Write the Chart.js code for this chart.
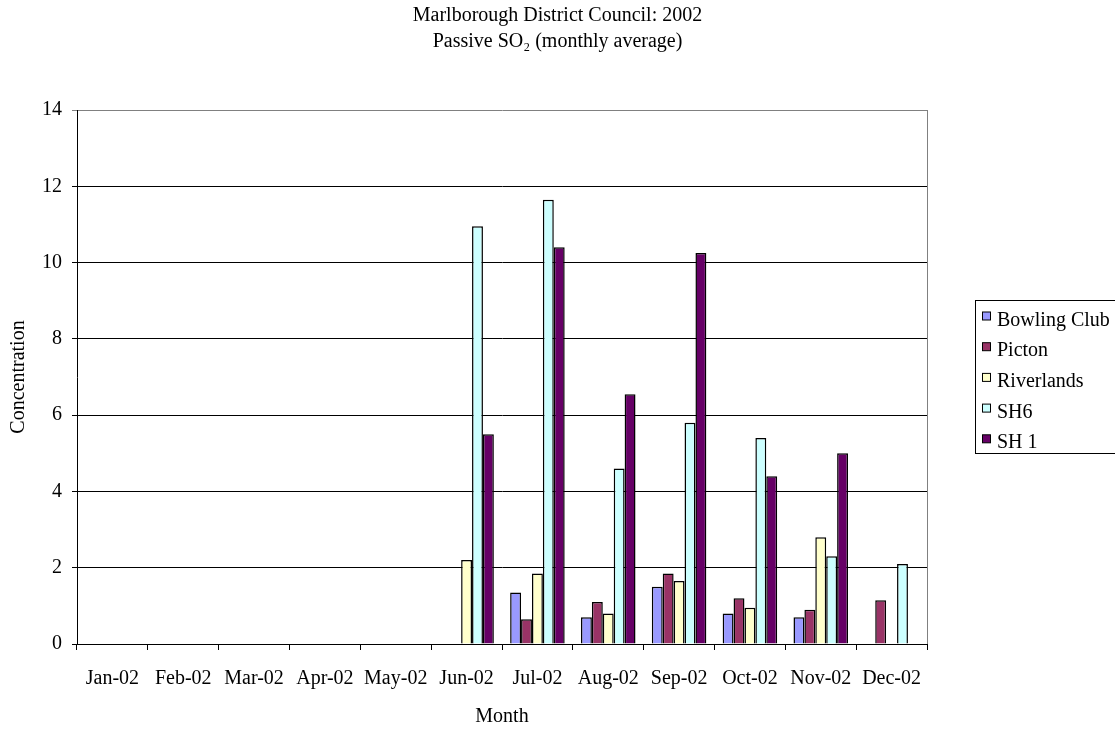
<!DOCTYPE html>
<html>
<head>
<meta charset="utf-8">
<script src="https://cdn.jsdelivr.net/npm/chart.js@4/dist/chart.umd.min.js"></script>
<style>
  html, body { margin: 0; padding: 0; background: #ffffff; }
  #wrap { width: 1115px; height: 729px; }
</style>
</head>
<body>
<div id="wrap"><canvas id="chart" width="1115" height="729"></canvas></div>
<script>
// Passive SO2 monthly averages, Marlborough District Council, 2002
const months = ['Jan-02', 'Feb-02', 'Mar-02', 'Apr-02', 'May-02', 'Jun-02',
                'Jul-02', 'Aug-02', 'Sep-02', 'Oct-02', 'Nov-02', 'Dec-02'];
const bowlingClub = [null, null, null, null, null, null, 1.35, 0.7, 1.5, 0.8, 0.7, null];
const picton      = [null, null, null, null, null, null, 0.65, 1.1, 1.85, 1.2, 0.9, 1.15];
const riverlands  = [null, null, null, null, null, 2.2, 1.85, 0.8, 1.65, 0.95, 2.8, null];
const sh6         = [null, null, null, null, null, 10.95, 11.65, 4.6, 5.8, 5.4, 2.3, 2.1];
const sh1         = [null, null, null, null, null, 5.5, 10.4, 6.55, 10.25, 4.4, 5.0, null];
const yTicks      = [0, 2, 4, 6, 8, 10, 12, 14];

const FONT = 'Liberation Serif, Times New Roman, serif';

function series(label, data, color) {
  return { label, data, backgroundColor: color, borderColor: '#000000', borderWidth: 1.5 };
}

// Boxed legend to the right of the plot, plus the grey plot-area outline
const framePlugin = {
  id: 'frame',
  afterDatasetsDraw(chart) {
    const { ctx, chartArea: a } = chart;
    ctx.save();
    ctx.strokeStyle = '#808080';
    ctx.lineWidth = 1;
    ctx.beginPath();
    ctx.moveTo(Math.round(a.right) + 0.5, a.top);
    ctx.lineTo(Math.round(a.right) + 0.5, a.bottom);
    ctx.stroke();
    ctx.restore();
  },
  afterDraw(chart) {
    const { ctx } = chart;
    const left = 975.5, top = 300.5, rowH = 30.7;
    ctx.save();
    ctx.strokeStyle = '#000000';
    ctx.lineWidth = 1;
    ctx.strokeRect(left, top, 160, 153);
    ctx.font = '20px ' + FONT;
    ctx.textAlign = 'left';
    ctx.textBaseline = 'alphabetic';
    chart.data.datasets.forEach((ds, i) => {
      const baseY = 325.5 + i * rowH;
      ctx.fillStyle = ds.backgroundColor;
      ctx.fillRect(982.5, baseY - 13.5, 8, 8);
      ctx.strokeRect(982.5, baseY - 13.5, 8, 8);
      ctx.fillStyle = '#000000';
      ctx.fillText(ds.label, 997, baseY);
    });
    ctx.restore();
  }
};

new Chart(document.getElementById('chart'), {
  type: 'bar',
  data: {
    labels: months,
    datasets: [
      series('Bowling Club', bowlingClub, '#9999FF'),
      series('Picton', picton, '#993366'),
      series('Riverlands', riverlands, '#FFFFCC'),
      series('SH6', sh6, '#CCFFFF'),
      series('SH 1', sh1, '#660066')
    ]
  },
  options: {
    responsive: false,
    animation: false,
    devicePixelRatio: 1,
    layout: { padding: 0 },
    datasets: { bar: { barPercentage: 1.0, categoryPercentage: 0.77 } },
    plugins: {
      legend: { display: false },
      tooltip: { enabled: false },
      title: {
        display: true,
        text: ['Marlborough District Council: 2002', 'Passive SO\u2082 (monthly average)'],
        color: '#000000',
        font: { family: FONT, size: 20, weight: 'normal', lineHeight: 1.3 },
        padding: { top: 3, bottom: 55 }
      }
    },
    scales: {
      x: {
        grid: { display: true, offset: true, drawOnChartArea: false, drawTicks: true,
                tickLength: 6, color: '#000000' },
        border: { display: true, color: '#000000', width: 1 },
        ticks: { color: '#000000', font: { family: FONT, size: 20 }, padding: 17,
                 maxRotation: 0, autoSkip: false },
        title: { display: true, text: 'Month', color: '#000000',
                 font: { family: FONT, size: 20 }, padding: { top: 0, bottom: 0 } },
        afterFit(scale) { scale.height = 85; }
      },
      y: {
        min: 0,
        max: 14,
        afterBuildTicks(scale) { scale.ticks = yTicks.map(v => ({ value: v })); },
        grid: {
          color: (c) => (c.tick && c.tick.value === 14 ? '#808080' : '#000000'),
          tickLength: 5, drawTicks: true
        },
        border: { display: true, color: '#000000', width: 1 },
        ticks: { color: '#000000', font: { family: FONT, size: 20 }, padding: 10 },
        title: { display: true, text: 'Concentration', color: '#000000',
                 font: { family: FONT, size: 20 }, padding: { top: 7, bottom: 0 } },
        afterFit(scale) { scale.width = 77; }
      },
      // empty right-hand axis that keeps room for the legend box
      yLegendSpace: {
        position: 'right',
        min: 0,
        max: 14,
        grid: { display: false },
        border: { display: false },
        ticks: { display: false },
        afterFit(scale) { scale.width = 188; }
      }
    }
  },
  plugins: [framePlugin]
});
</script>
</body>
</html>
